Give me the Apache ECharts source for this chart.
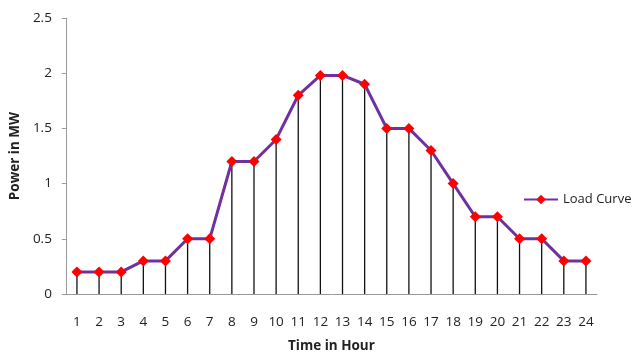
<!DOCTYPE html>
<html>
<head>
<meta charset="utf-8">
<script src="https://cdn.jsdelivr.net/npm/echarts@6/dist/echarts.min.js"></script>
<style>
  html, body { margin: 0; padding: 0; background: #fff; }
  #chart { width: 638px; height: 358px; }
</style>
</head>
<body>
<div id="chart"></div>
<script>
// Hourly load profile over one day
const hours = ['1','2','3','4','5','6','7','8','9','10','11','12','13','14','15','16','17','18','19','20','21','22','23','24'];
const loadMW = [0.2, 0.2, 0.2, 0.3, 0.3, 0.5, 0.5, 1.2, 1.2, 1.4, 1.8, 1.98, 1.98, 1.9, 1.5, 1.5, 1.3, 1.0, 0.7, 0.7, 0.5, 0.5, 0.3, 0.3];
const yTicks = [0, 0.5, 1, 1.5, 2, 2.5];

const font = 'Open Sans, Noto Sans, sans-serif';
const chart = echarts.init(document.getElementById('chart'));
chart.setOption({
  animation: false,
  backgroundColor: '#fff',
  grid: { left: 64, right: 41, top: 18, bottom: 62, containLabel: false },
  legend: {
    data: [{ name: 'Load Curve' }],
    left: 518, top: 188,
    itemWidth: 34, itemHeight: 12, itemGap: 4,
    textStyle: { fontFamily: font, fontSize: 13, color: '#222' }
  },
  xAxis: {
    type: 'category',
    data: hours,
    boundaryGap: true,
    name: 'Time in Hour',
    nameLocation: 'middle',
    nameGap: 45,
    nameTextStyle: { fontFamily: font, fontSize: 13.5, fontWeight: 'bold', color: '#222' },
    axisLine: { lineStyle: { color: '#999', width: 1 } },
    axisTick: { show: false },
    axisLabel: { fontFamily: font, fontSize: 13.5, color: '#222', margin: 21, interval: 0 },
    splitLine: { show: false }
  },
  yAxis: {
    type: 'value',
    min: yTicks[0], max: yTicks[yTicks.length - 1], interval: 0.5,
    name: 'Power in MW',
    nameLocation: 'middle',
    nameGap: 41,
    nameTextStyle: { fontFamily: font, fontSize: 13.5, fontWeight: 'bold', color: '#222' },
    axisLine: { show: true, lineStyle: { color: '#999', width: 1 } },
    axisTick: { show: true, length: 4, lineStyle: { color: '#999' } },
    axisLabel: { fontFamily: font, fontSize: 13.5, color: '#222', margin: 14 },
    splitLine: { show: false }
  },
  series: [
    {
      // vertical drop lines from each hourly value down to the axis
      name: 'drop',
      type: 'bar',
      data: loadMW,
      barWidth: 1.3,
      itemStyle: { color: '#111' },
      silent: true,
      z: 1
    },
    {
      name: 'Load Curve',
      type: 'line',
      data: loadMW,
      symbol: 'diamond',
      symbolSize: 11,
      lineStyle: { color: '#7030A0', width: 3 },
      itemStyle: { color: '#FF0000', borderColor: '#FF0000', borderWidth: 0 },
      z: 3
    }
  ]
});
</script>
</body>
</html>
